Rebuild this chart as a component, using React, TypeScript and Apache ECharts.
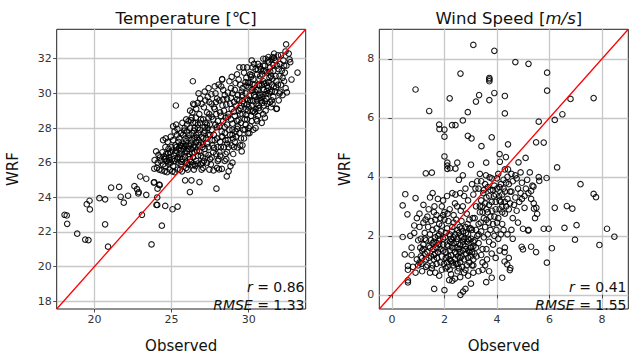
import React, { useEffect, useRef } from "react";
import * as echarts from "echarts";

// ---------- Temperature panel data ----------
const tempTicksX = [20, 25, 30];
const tempTicksY = [18, 20, 22, 24, 26, 28, 30, 32];
const tempLimits = [17.55, 33.7];
const tempStats = { r: "0.86", rmse: "1.33" };

const tempSparse: number[][] = [
  [18.06, 22.99], [18.2, 22.95], [18.23, 22.47], [18.88, 21.9], [19.4, 21.56], [19.61, 21.53],
  [19.5, 23.6], [19.68, 23.8], [19.7, 23.3], [20.32, 23.95], [20.69, 23.88], [20.69, 22.44],
  [20.88, 21.15], [21.08, 24.56], [21.6, 24.6], [21.7, 24.03], [21.9, 23.69], [22.18, 24.09],
  [22.59, 24.64], [22.76, 24.47], [22.84, 24.22], [22.87, 24.3], [22.97, 25.2], [23.08, 22.99],
  [23.36, 25.07], [23.36, 24.14], [23.7, 21.28], [23.88, 24.87], [24.07, 23.99], [24.07, 23.56],
  [24.09, 24.5], [24.2, 24.73], [24.37, 22.36], [24.59, 23.5], [25.06, 23.31], [25.39, 23.46],
  [25.88, 24.98], [26.29, 24.98], [26.19, 24.3], [26.81, 24.88], [27.91, 24.5], [28.58, 25.21],
  [25.28, 29.3], [26.38, 30.7], [28.28, 30.82], [32.43, 32.83], [32.65, 31.96], [32.78, 30.8],
  [33.17, 31.2], [32.6, 32.3], [32.7, 31.8], [23.85, 24.85], [24.23, 24.7], [24.02, 23.56],
];

const tempCore: number[][] = [
  [24.05, 25.7], [24.2, 25.6], [24.35, 25.55], [24.1, 26.0], [24.3, 26.1], [24.15, 26.45], [24.4, 26.6],
  [24.25, 26.3], [24.45, 25.9], [24.5, 26.35], [24.62, 27.4], [24.0, 26.65], [23.9, 26.15], [23.88, 25.65],
  [24.45, 27.3],
  [24.55, 25.5], [24.6, 25.8], [24.7, 26.1], [24.65, 26.5], [24.8, 26.8], [24.75, 27.2], [24.9, 25.6],
  [24.95, 26.0], [24.85, 26.3], [24.9, 26.6], [25.0, 26.9], [24.6, 26.9], [24.7, 25.45], [24.8, 25.95],
  [24.95, 27.5], [24.55, 26.2], [24.78, 26.55],
  [25.05, 25.5], [25.1, 25.8], [25.2, 26.1], [25.15, 26.4], [25.3, 26.7], [25.25, 27.0], [25.1, 27.3],
  [25.35, 27.6], [25.4, 25.6], [25.45, 26.0], [25.4, 26.3], [25.3, 26.9], [25.45, 27.2], [25.2, 27.8],
  [25.1, 28.1], [25.3, 28.2], [25.5, 26.5], [25.05, 26.7], [25.2, 25.45], [25.38, 27.95], [25.48, 26.85],
  [25.55, 25.6], [25.6, 25.9], [25.7, 26.2], [25.65, 26.5], [25.8, 26.8], [25.75, 27.1], [25.9, 27.4],
  [25.6, 27.7], [25.85, 28.0], [25.7, 28.3], [25.95, 28.5], [25.95, 25.7], [25.9, 26.0], [25.85, 26.35],
  [26.0, 26.65], [25.6, 27.0], [25.95, 27.0], [25.75, 27.6], [25.55, 26.3], [25.68, 25.5], [25.82, 27.85],
  [26.0, 28.2],
  [26.05, 25.6], [26.1, 25.9], [26.2, 26.2], [26.15, 26.5], [26.3, 26.8], [26.25, 27.1], [26.1, 27.4],
  [26.35, 27.7], [26.2, 28.0], [26.4, 28.3], [26.3, 28.6], [26.2, 29.0], [26.4, 29.4], [26.45, 25.6],
  [26.5, 25.9], [26.4, 26.3], [26.5, 26.6], [26.45, 27.0], [26.05, 26.8], [26.15, 27.6], [26.5, 27.4],
  [26.35, 28.9], [26.5, 28.0], [26.27, 26.05], [26.48, 29.35], [26.1, 28.4],
  [26.55, 25.8], [26.6, 26.1], [26.7, 26.4], [26.65, 26.7], [26.8, 27.0], [26.75, 27.3], [26.6, 27.6],
  [26.85, 27.9], [26.7, 28.2], [26.9, 28.5], [26.8, 28.8], [26.6, 29.1], [26.95, 29.4], [26.85, 29.7],
  [26.75, 30.0], [26.95, 25.6], [27.0, 26.0], [26.9, 26.4], [27.0, 26.9], [26.95, 27.5], [26.58, 28.6],
  [26.7, 29.45], [26.9, 25.9], [26.62, 27.2],
  [27.05, 25.7], [27.1, 26.1], [27.2, 26.5], [27.15, 26.8], [27.3, 27.1], [27.25, 27.4], [27.1, 27.7],
  [27.35, 28.0], [27.2, 28.3], [27.4, 28.6], [27.3, 28.9], [27.1, 29.2], [27.45, 29.5], [27.35, 29.8],
  [27.4, 30.3], [27.45, 25.6], [27.5, 26.2], [27.4, 26.9], [27.5, 27.6], [27.2, 29.6], [27.05, 28.5],
  [27.48, 28.2], [27.15, 30.1], [27.3, 26.0],
  [27.55, 25.9], [27.6, 26.3], [27.7, 26.6], [27.65, 27.0], [27.8, 27.3], [27.75, 27.6], [27.6, 27.9],
  [27.85, 28.2], [27.7, 28.5], [27.9, 28.8], [27.8, 29.1], [27.6, 29.4], [27.95, 29.7], [27.85, 30.0],
  [27.8, 30.4], [27.95, 25.7], [28.0, 26.1], [27.9, 26.5], [28.0, 26.9], [27.95, 27.4], [27.58, 29.95],
  [27.72, 25.55], [27.88, 29.5], [28.0, 28.4],
  [28.05, 26.2], [28.1, 26.6], [28.2, 26.9], [28.15, 27.2], [28.3, 27.5], [28.25, 27.8], [28.1, 28.1],
  [28.35, 28.4], [28.2, 28.7], [28.4, 29.0], [28.3, 29.3], [28.1, 29.6], [28.45, 29.9], [28.35, 30.2],
  [28.28, 30.8], [28.45, 26.1], [28.5, 26.5], [28.4, 26.9], [28.5, 27.3], [28.45, 27.7], [28.05, 30.5],
  [28.5, 28.6], [28.22, 30.4], [28.08, 25.61], [28.26, 25.64],
  [28.55, 26.2], [28.6, 26.6], [28.7, 26.9], [28.65, 27.3], [28.8, 27.6], [28.75, 27.9], [28.6, 28.2],
  [28.85, 28.5], [28.7, 28.8], [28.9, 29.1], [28.8, 29.4], [28.6, 29.7], [28.95, 30.0], [28.85, 30.3],
  [28.75, 30.7], [28.95, 26.0], [29.0, 26.5], [28.9, 27.0], [29.0, 27.4], [28.95, 27.9], [28.65, 30.05],
  [28.9, 30.95], [28.82, 25.8], [28.7, 25.5],
  [29.05, 26.9], [29.1, 27.2], [29.2, 27.5], [29.15, 27.8], [29.3, 28.1], [29.25, 28.4], [29.1, 28.7],
  [29.35, 29.0], [29.2, 29.3], [29.4, 29.6], [29.3, 29.9], [29.1, 30.2], [29.45, 30.5], [29.35, 30.8],
  [29.25, 31.1], [29.45, 27.0], [29.5, 27.4], [29.4, 27.7], [29.5, 28.3], [29.45, 28.8], [29.15, 30.6],
  [29.4, 31.5], [29.27, 26.88], [29.5, 29.3], [29.05, 29.5],
  [29.55, 26.65], [29.6, 27.0], [29.7, 27.4], [29.65, 27.9], [29.8, 28.2], [29.75, 28.5], [29.6, 28.8],
  [29.85, 29.1], [29.7, 29.4], [29.9, 29.7], [29.8, 30.0], [29.6, 30.3], [29.95, 30.6], [29.85, 30.9],
  [29.7, 31.2], [29.95, 27.7], [30.0, 28.0], [29.9, 28.5], [30.0, 29.2], [29.95, 29.6], [29.65, 31.5],
  [29.9, 31.5], [29.75, 27.92], [29.58, 29.9], [30.0, 30.35],
  [30.05, 27.7], [30.1, 28.1], [30.2, 28.4], [30.15, 28.7], [30.3, 29.0], [30.25, 29.3], [30.1, 29.6],
  [30.35, 29.9], [30.2, 30.2], [30.4, 30.5], [30.3, 30.8], [30.1, 31.1], [30.45, 31.4], [30.35, 31.7],
  [30.2, 31.9], [30.45, 28.0], [30.5, 28.5], [30.4, 28.9], [30.5, 29.4], [30.45, 29.8], [30.05, 30.6],
  [30.5, 30.2], [30.15, 30.95], [30.3, 27.9], [30.25, 31.5],
  [30.55, 28.4], [30.6, 28.7], [30.7, 29.0], [30.65, 29.3], [30.8, 29.6], [30.75, 29.9], [30.6, 30.2],
  [30.85, 30.5], [30.7, 30.8], [30.9, 31.1], [30.8, 31.4], [30.6, 31.7], [30.95, 32.0], [30.85, 28.3],
  [30.95, 28.8], [31.0, 29.3], [30.9, 29.8], [31.0, 30.2], [30.95, 30.7], [30.55, 31.1], [30.72, 31.55],
  [31.0, 31.3], [30.65, 30.5], [30.88, 29.45],
  [31.05, 28.6], [31.1, 29.0], [31.2, 29.4], [31.15, 29.7], [31.3, 30.0], [31.25, 30.3], [31.1, 30.6],
  [31.35, 30.9], [31.2, 31.2], [31.4, 31.5], [31.3, 31.8], [31.1, 32.0], [31.45, 29.2], [31.5, 29.6],
  [31.4, 30.1], [31.5, 30.5], [31.45, 31.0], [31.05, 31.6], [31.28, 32.1], [31.48, 31.95], [31.18, 30.15],
  [31.38, 29.5],
  [31.55, 29.4], [31.6, 29.8], [31.7, 30.1], [31.65, 30.4], [31.8, 30.7], [31.75, 31.0], [31.6, 31.3],
  [31.85, 31.6], [31.7, 31.9], [31.9, 32.2], [31.8, 29.1], [31.95, 29.6], [32.0, 30.0], [31.9, 30.5],
  [32.0, 31.0], [31.95, 31.4], [31.55, 32.1], [31.83, 29.12], [31.65, 32.3], [31.78, 30.35],
  [32.05, 30.1], [32.1, 30.5], [32.2, 30.9], [32.15, 31.3], [32.3, 31.6], [32.25, 31.9], [32.1, 32.2],
  [32.39, 32.42], [32.4, 30.3], [32.48, 30.06], [32.35, 31.2], [32.45, 31.6], [32.2, 29.9], [32.3, 30.7],
  [32.05, 31.7],
  [25.6, 26.7], [25.9, 26.6], [26.1, 26.35], [26.35, 26.55], [26.55, 26.9], [26.8, 26.65], [27.05, 27.05],
  [26.3, 27.3], [25.95, 27.25], [26.65, 27.45], [27.15, 27.85], [26.45, 27.85], [25.5, 27.4], [25.7, 26.95],
  [26.0, 27.8], [26.7, 28.0], [27.3, 28.2], [26.9, 27.15],
  [29.6, 29.55], [30.05, 29.85], [30.4, 30.1], [30.7, 30.45], [31.0, 30.55], [31.3, 30.65], [30.55, 29.6],
  [30.9, 29.95], [31.2, 30.45], [31.55, 30.85], [30.25, 30.55], [29.85, 30.45], [30.75, 31.0], [31.1, 31.25],
  [31.4, 31.25], [31.6, 31.65], [30.45, 29.1], [29.95, 29.0],
  [28.15, 28.9], [28.55, 29.35], [28.85, 29.75], [29.25, 29.65], [29.55, 30.1], [29.8, 30.65], [30.2, 31.05],
  [30.6, 31.35], [30.95, 31.6], [31.25, 31.9], [31.65, 32.05], [28.35, 29.65], [28.65, 28.65], [29.05, 28.95],
  [29.45, 29.15], [29.9, 29.35], [30.3, 29.55], [30.7, 29.75], [31.1, 29.95], [31.5, 30.1], [28.45, 28.05],
  [28.95, 28.25], [29.35, 28.45], [29.85, 28.75], [30.25, 28.95], [30.65, 29.15], [31.05, 29.55], [27.45, 28.8],
  [27.75, 29.2], [27.15, 28.05], [26.85, 28.3], [26.55, 28.3], [26.25, 28.45], [27.6, 28.65], [27.95, 28.05],
  [27.65, 27.3], [27.35, 27.6], [27.05, 27.4], [26.75, 27.7], [26.4, 26.9], [26.15, 26.95], [25.85, 26.95],
  [25.55, 27.0], [25.25, 26.55], [25.05, 26.2], [24.85, 26.15], [24.65, 26.3], [25.35, 26.2], [25.65, 26.05],
  [26.0, 25.95], [26.35, 25.85], [26.7, 25.95], [27.05, 26.3], [27.4, 26.45], [27.75, 26.85], [28.15, 26.4],
  [28.6, 27.1], [28.25, 27.5], [28.95, 27.6], [29.25, 27.95],
];

// ---------- Wind speed panel data ----------
const windTicksX = [0, 2, 4, 6, 8];
const windTicksY = [0, 2, 4, 6, 8];
const windLimits = [-0.48, 9.0];
const windStats = { r: "0.41", rmse: "1.55" };

const windSparse: number[][] = [
  [3.1, 8.47], [3.9, 8.27], [4.7, 7.89], [5.2, 7.83], [5.91, 7.53], [2.61, 7.5], [3.71, 7.35], [3.71, 7.3],
  [3.71, 7.24], [0.9, 6.96], [5.91, 6.92], [2.2, 6.66], [3.32, 6.77], [3.2, 6.55], [3.71, 6.6], [3.9, 6.84],
  [4.3, 6.74], [6.8, 6.64], [7.68, 6.67], [1.42, 6.23], [2.89, 6.19], [4.3, 6.15], [6.49, 6.12], [6.2, 5.93],
  [2.7, 5.91], [5.59, 5.87], [1.8, 5.77], [1.81, 5.62], [2.0, 5.6], [2.0, 5.36], [2.29, 5.75], [2.42, 5.75],
  [2.89, 5.39], [3.03, 5.3], [3.8, 5.34], [3.41, 5.04], [4.42, 5.1], [5.49, 5.17], [5.78, 5.16],
  [1.29, 4.12], [1.52, 4.14], [2.0, 4.69], [2.11, 4.48], [2.11, 4.38], [2.11, 4.27], [2.22, 4.29],
  [2.49, 4.48], [2.42, 4.28], [3.01, 4.41], [3.59, 4.48], [4.1, 4.77], [4.11, 4.51], [4.34, 4.67],
  [4.82, 4.49], [5.09, 4.64], [6.29, 4.32], [7.18, 3.75], [7.68, 3.42], [7.77, 3.31], [5.89, 3.96],
  [5.59, 3.99], [5.61, 3.86], [5.39, 3.67], [5.3, 3.52], [6.2, 2.95], [6.66, 3.01], [6.87, 2.92],
  [7.03, 2.36], [6.97, 1.87], [6.57, 2.27], [5.78, 2.24], [5.97, 2.24], [6.09, 1.58], [5.41, 2.92],
  [5.53, 2.74], [4.99, 2.24], [5.19, 2.18], [4.94, 1.63], [4.99, 1.54], [5.3, 1.63], [5.49, 1.45],
  [5.9, 1.09], [7.9, 1.69], [8.19, 2.24], [8.47, 1.97], [3.8, 0.58], [3.59, 0.43], [4.2, 0.58],
  [4.51, 0.91], [4.49, 0.84], [4.29, 1.13], [4.39, 1.03], [4.29, 1.45], [2.61, 0.0], [2.71, 0.11],
  [2.8, 0.2], [3.01, 0.38], [2.0, 0.16], [1.61, 0.2], [0.61, 0.42], [0.61, 0.49], [0.41, 1.96],
  [0.41, 3.03], [0.51, 3.41], [0.59, 2.73], [0.49, 1.37], [0.61, 0.98], [0.61, 0.85],
];

const windCore: number[][] = [
  [0.9, 3.28], [0.85, 2.1], [0.75, 1.6], [0.95, 1.2], [0.8, 0.95], [0.9, 0.75], [0.7, 2.0], [0.95, 2.6],
  [0.75, 1.35], [1.0, 1.85], [0.85, 2.35], [1.0, 1.0],
  [1.05, 1.1], [1.1, 1.3], [1.15, 1.5], [1.2, 1.7], [1.1, 1.9], [1.25, 2.1], [1.05, 2.3], [1.3, 1.2],
  [1.35, 1.45], [1.4, 1.65], [1.3, 1.85], [1.45, 2.05], [1.2, 2.45], [1.35, 2.65], [1.15, 0.8], [1.3, 0.95],
  [1.45, 0.75], [1.4, 2.9], [1.2, 3.05], [1.45, 3.3], [1.05, 2.75], [1.25, 1.4], [1.5, 1.3], [1.38, 2.3],
  [1.12, 1.05], [1.48, 1.85], [1.08, 1.6], [1.28, 2.55],
  [1.55, 1.0], [1.6, 1.2], [1.65, 1.4], [1.7, 1.6], [1.6, 1.8], [1.75, 2.0], [1.55, 2.2], [1.8, 2.4],
  [1.85, 1.1], [1.9, 1.3], [1.95, 1.5], [1.8, 1.7], [1.95, 1.9], [1.7, 2.25], [1.85, 2.6], [1.6, 2.8],
  [1.9, 3.0], [1.75, 3.25], [1.55, 3.45], [1.95, 3.2], [1.65, 0.75], [1.9, 0.85], [1.8, 0.65], [1.65, 2.55],
  [1.95, 2.7], [1.58, 1.55], [1.72, 1.25], [1.88, 2.15], [1.52, 0.9], [1.98, 1.05], [1.62, 3.0], [1.82, 1.9],
  [2.05, 0.9], [2.1, 1.1], [2.15, 1.3], [2.2, 1.5], [2.1, 1.7], [2.25, 1.9], [2.05, 2.1], [2.3, 2.3],
  [2.15, 2.5], [2.35, 2.7], [2.2, 2.9], [2.4, 3.1], [2.1, 3.35], [2.3, 3.45], [2.35, 1.0], [2.4, 1.2],
  [2.45, 1.4], [2.3, 1.6], [2.45, 1.8], [2.4, 2.05], [2.5, 2.2], [2.45, 2.55], [2.25, 0.7], [2.4, 0.55],
  [2.3, 0.48], [2.5, 0.8], [2.05, 1.45], [2.2, 2.05], [2.35, 1.75], [2.12, 2.75], [2.48, 3.0], [2.25, 1.15],
  [2.02, 1.95], [2.42, 3.4], [2.18, 0.5], [2.5, 1.6],
  [2.55, 0.9], [2.6, 1.1], [2.65, 1.3], [2.7, 1.5], [2.6, 1.7], [2.75, 1.9], [2.55, 2.1], [2.8, 2.3],
  [2.65, 2.5], [2.85, 2.75], [2.7, 3.0], [2.9, 3.2], [2.6, 3.45], [2.8, 3.6], [2.85, 1.0], [2.9, 1.25],
  [2.95, 1.45], [2.8, 1.65], [2.95, 1.85], [2.9, 2.05], [3.0, 2.25], [2.95, 2.55], [2.75, 0.75], [2.6, 0.6],
  [2.9, 0.65], [2.7, 2.15], [2.58, 1.45], [2.82, 1.4], [2.68, 0.95], [2.98, 1.6], [2.62, 2.85], [2.75, 3.35],
  [2.55, 3.9], [2.7, 4.05],
  [3.05, 1.0], [3.1, 1.2], [3.15, 1.4], [3.2, 1.6], [3.1, 1.8], [3.25, 2.0], [3.05, 2.2], [3.3, 2.4],
  [3.15, 2.6], [3.35, 2.8], [3.2, 3.0], [3.4, 3.2], [3.1, 3.4], [3.3, 3.6], [3.25, 3.85], [3.35, 4.1],
  [3.45, 1.1], [3.4, 1.35], [3.45, 1.55], [3.3, 1.75], [3.5, 1.95], [3.4, 2.15], [3.5, 2.6], [3.45, 3.0],
  [3.1, 0.75], [3.3, 0.8], [3.45, 0.85], [3.08, 2.6], [3.18, 3.6], [3.38, 2.45], [3.02, 1.6], [3.48, 3.45],
  [3.22, 1.3], [3.05, 3.75], [3.4, 3.85],
  [3.55, 2.3], [3.6, 2.55], [3.65, 2.8], [3.7, 3.05], [3.6, 3.3], [3.75, 3.55], [3.55, 3.75], [3.8, 3.95],
  [3.85, 2.4], [3.9, 2.65], [3.95, 2.9], [3.8, 3.15], [3.95, 3.4], [3.9, 3.7], [4.0, 3.95], [3.6, 1.55],
  [3.7, 1.8], [3.65, 2.05], [3.85, 1.7], [3.9, 2.0], [3.75, 2.2], [3.55, 1.0], [3.7, 0.8], [3.95, 1.25],
  [3.8, 1.4], [3.62, 1.2], [3.72, 3.98], [3.58, 4.05], [3.88, 3.35], [3.68, 2.45], [3.98, 2.2], [3.82, 2.85],
  [4.05, 2.6], [4.1, 2.9], [4.15, 3.15], [4.2, 3.4], [4.1, 3.65], [4.25, 3.9], [4.05, 4.1], [4.3, 2.75],
  [4.35, 3.0], [4.4, 3.25], [4.3, 3.5], [4.45, 3.75], [4.4, 4.0], [4.3, 4.25], [4.45, 2.9], [4.2, 2.4],
  [4.05, 1.9], [4.15, 2.05], [4.25, 2.2], [4.4, 2.05], [4.1, 1.5], [4.3, 1.6], [4.45, 1.25], [4.2, 3.0],
  [4.42, 4.25], [4.08, 3.35],
  [4.55, 3.5], [4.6, 3.85], [4.7, 3.3], [4.65, 3.05], [4.8, 3.6], [4.75, 3.95], [4.9, 3.45], [4.85, 3.15],
  [4.95, 3.8], [4.6, 2.6], [4.75, 2.85], [4.55, 4.1], [4.9, 4.15], [4.7, 4.05], [4.55, 2.2], [4.8, 2.45],
  [4.6, 1.9], [4.95, 3.25],
  [5.05, 3.35], [5.1, 3.6], [5.2, 3.45], [5.3, 3.25], [5.15, 3.9], [5.25, 4.15], [5.4, 3.1], [5.05, 2.95],
  [5.35, 3.7], [5.5, 2.95], [5.45, 2.6], [5.2, 2.2],
  [2.05, 1.25], [2.15, 1.65], [2.25, 1.35], [2.35, 1.95], [2.45, 1.05], [2.55, 1.55], [2.65, 1.95],
  [2.75, 1.2], [2.85, 1.8], [2.95, 1.1], [3.05, 1.45], [3.15, 1.85], [2.12, 0.95], [2.22, 1.8], [2.32, 1.1],
  [2.42, 1.6], [2.52, 1.3], [2.62, 2.0], [2.72, 1.7], [2.82, 2.1], [2.92, 1.5], [3.02, 1.9], [2.28, 2.15],
  [2.58, 2.3], [2.88, 2.4], [1.45, 1.6], [1.55, 1.75], [1.65, 1.95], [1.75, 1.45], [1.85, 1.55], [1.95, 1.7],
  [1.35, 1.0], [1.25, 1.9], [1.15, 1.25], [1.7, 1.05],
  [1.6, 1.35], [1.7, 1.75], [1.8, 2.05], [1.9, 2.35], [2.0, 2.55], [2.1, 2.25], [2.2, 1.2], [2.3, 1.85],
  [2.4, 1.45], [2.5, 1.9], [2.6, 1.25], [2.7, 1.8], [2.8, 1.55], [2.9, 1.9], [3.0, 1.3], [3.1, 1.65],
  [3.2, 2.2], [3.3, 2.05], [2.2, 0.85], [2.5, 1.05], [2.8, 0.85], [3.1, 1.0], [2.35, 2.45], [2.65, 2.25],
  [2.95, 2.25], [1.4, 1.25], [1.2, 1.55], [1.5, 2.5], [1.7, 2.7], [2.0, 2.8], [3.35, 3.0], [3.55, 3.1],
  [3.7, 3.35], [3.85, 3.55], [4.0, 3.6], [4.15, 3.75], [4.25, 3.6], [4.35, 3.8], [3.6, 2.9], [3.75, 2.65],
  [3.95, 3.15], [4.1, 3.2], [4.3, 3.15], [3.5, 3.55], [3.65, 3.65], [3.45, 2.8], [4.2, 2.8], [4.5, 3.5],
  [4.5, 3.1], [4.0, 2.45],
];

const FONT = "DejaVu Sans";
const GRID_W = 249;
const GRID_H = 285;
const GRID_TOP = 29.3;
const LEFT_A = 56.7;
const LEFT_B = 379.3;

function axisX(gridIndex: number, lim: number[], ticks: number[]) {
  return {
    type: "value",
    gridIndex,
    min: lim[0],
    max: lim[1],
    name: "Observed",
    nameLocation: "middle",
    nameGap: 29,
    nameTextStyle: { fontFamily: FONT, fontSize: 15, color: "#111" },
    axisLine: { show: false },
    axisTick: { show: true, customValues: ticks, length: 3.5, lineStyle: { color: "#222", width: 0.8 } },
    axisLabel: { customValues: ticks, fontFamily: FONT, fontSize: 11, color: "#333", margin: 5 },
    splitLine: { show: true, lineStyle: { color: "#c8c8c8", width: 1.3 } },
  };
}

function axisY(gridIndex: number, lim: number[], ticks: number[], gap: number) {
  return {
    type: "value",
    gridIndex,
    min: lim[0],
    max: lim[1],
    name: "WRF",
    nameLocation: "middle",
    nameGap: gap,
    nameRotate: 90,
    nameTextStyle: { fontFamily: FONT, fontSize: 15, color: "#111" },
    axisLine: { show: false },
    axisTick: { show: true, customValues: ticks, length: 3.5, lineStyle: { color: "#222", width: 0.8 } },
    axisLabel: { customValues: ticks, fontFamily: FONT, fontSize: 11, color: "#333", margin: 5 },
    splitLine: { show: true, lineStyle: { color: "#c8c8c8", width: 1.3 } },
  };
}

function scatter(idx: number, data: number[][]) {
  return {
    type: "scatter",
    xAxisIndex: idx,
    yAxisIndex: idx,
    data,
    symbol: "circle",
    symbolSize: 5.5,
    itemStyle: { color: "rgba(0,0,0,0)", borderColor: "#000", borderWidth: 1.1, opacity: 0.9 },
    silent: true,
    z: 2,
  };
}

function idLine(idx: number, lim: number[]) {
  return {
    type: "line",
    xAxisIndex: idx,
    yAxisIndex: idx,
    data: [[lim[0], lim[0]], [lim[1], lim[1]]],
    symbol: "none",
    lineStyle: { color: "#ff0000", width: 1.3 },
    silent: true,
    z: 5,
  };
}

function statText(right: number, stats: { r: string; rmse: string }) {
  const rich = {
    i: { fontFamily: FONT, fontSize: 14, fontStyle: "italic", fill: "#111" },
    n: { fontFamily: FONT, fontSize: 14, fill: "#111" },
  };
  return [
    {
      type: "text",
      x: right,
      y: 287,
      z: 10,
      style: { text: `{i|r}{n| = ${stats.r}}`, rich, align: "right", verticalAlign: "middle" },
    },
    {
      type: "text",
      x: right,
      y: 304.5,
      z: 10,
      style: { text: `{i|RMSE}{n| = ${stats.rmse}}`, rich, align: "right", verticalAlign: "middle" },
    },
  ];
}

export default function App() {
  const ref = useRef<HTMLDivElement>(null);
  useEffect(() => {
    if (!ref.current) return;
    const chart = echarts.init(ref.current, undefined, { renderer: "svg" });
    const option: any = {
      animation: false,
      backgroundColor: "#ffffff",
      textStyle: { fontFamily: FONT },
      title: [
        {
          text: "Temperature [℃]",
          left: LEFT_A + GRID_W / 2,
          textAlign: "center",
          top: 5,
          textStyle: { fontFamily: FONT, fontSize: 16.5, fontWeight: "normal", color: "#111" },
        },
        {
          text: "Wind Speed [{i|m/s}]",
          left: LEFT_B + GRID_W / 2,
          textAlign: "center",
          top: 5,
          textStyle: {
            fontFamily: FONT,
            fontSize: 16.5,
            fontWeight: "normal",
            color: "#111",
            rich: { i: { fontFamily: FONT, fontSize: 16.5, fontStyle: "italic", color: "#111" } },
          },
        },
      ],
      grid: [
        { left: LEFT_A, top: GRID_TOP, width: GRID_W, height: GRID_H, show: true, borderColor: "#222", borderWidth: 1, backgroundColor: "transparent" },
        { left: LEFT_B, top: GRID_TOP, width: GRID_W, height: GRID_H, show: true, borderColor: "#222", borderWidth: 1, backgroundColor: "transparent" },
      ],
      xAxis: [axisX(0, tempLimits, tempTicksX), axisX(1, windLimits, windTicksX)],
      yAxis: [axisY(0, tempLimits, tempTicksY, 36), axisY(1, windLimits, windTicksY, 26.5)],
      series: [
        scatter(0, [...tempSparse, ...tempCore]),
        idLine(0, tempLimits),
        scatter(1, [...windSparse, ...windCore]),
        idLine(1, windLimits),
      ],
      graphic: [...statText(304.5, tempStats), ...statText(626.5, windStats)],
    };
    chart.setOption(option);
    return () => chart.dispose();
  }, []);
  return (
    <div
      ref={ref}
      style={{ position: "absolute", left: 0, top: 0, width: 630, height: 358, background: "#fff" }}
    />
  );
}
